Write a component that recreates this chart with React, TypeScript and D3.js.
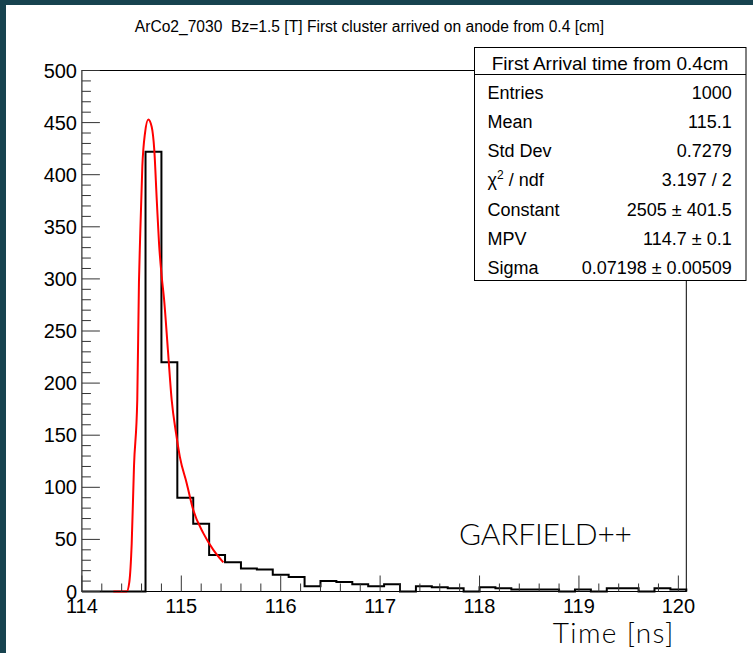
import React from "react";
import * as d3 from "d3";

// ---------- data ----------
const binLow = 114;
const binWidth = 0.16;
const binCounts = [
  0, 0, 0, 0, 422, 220, 90, 65, 35, 28, 22, 21, 16, 14, 5, 10, 9, 7, 5, 7,
  0, 5, 4, 3, 0, 4, 3, 2, 2, 2, 0, 2, 0, 3, 3, 0, 3, 2,
];

const fitX = [
  114.316, 114.451, 114.477, 114.501, 114.524, 114.557, 114.574, 114.585, 114.608,
  114.635, 114.668, 114.702, 114.728, 114.753, 114.776, 114.803, 114.826, 114.865,
  114.903, 114.947, 114.986, 115.054, 115.121, 115.221, 115.322, 115.423,
];
const fitY = [
  0, 0, 9, 46, 120, 184, 297, 337, 408, 440, 453, 446, 424, 376, 334, 302, 281, 232,
  184, 152, 129, 104, 78, 56, 40, 28,
];

const xMajorTicks = [114, 115, 116, 117, 118, 119, 120];
const xTickLabels = ["114", "115", "116", "117", "118", "119", "120"];
const yMajorTicks = [0, 50, 100, 150, 200, 250, 300, 350, 400, 450, 500];
const yTickLabels = ["0", "50", "100", "150", "200", "250", "300", "350", "400", "450", "500"];

const titleText = "ArCo2_7030  Bz=1.5 [T] First cluster arrived on anode from 0.4 [cm]";
const statsTitle = "First Arrival time from 0.4cm";
const statsLabels = ["Entries", "Mean", "Std Dev", "CHI", "Constant", "MPV", "Sigma"];
const statsValues = ["1000", "115.1", "0.7279", "3.197 / 2", "2505 \u00b1 401.5", "114.7 \u00b1 0.1", "0.07198 \u00b1 0.00509"];

// ---------- layout ----------
const W = 753;
const H = 653;
const PL = 81.9;
const PR = 686.3;
const PT = 70.5;
const PB = 591.5;

export default function App() {
  const x = d3.scaleLinear().domain([binLow, binLow + binWidth * binCounts.length]).range([PL, PR]);
  const y = d3.scaleLinear().domain([0, 500]).range([PB, PT]);

  // histogram outline
  const hp = d3.path();
  hp.moveTo(x(binLow), y(0));
  binCounts.forEach((c, i) => {
    const x0 = x(binLow + i * binWidth);
    const x1 = x(binLow + (i + 1) * binWidth);
    hp.lineTo(x0, y(c));
    hp.lineTo(x1, y(c));
  });
  hp.lineTo(x(binLow + binCounts.length * binWidth), y(0));

  const fitLine = d3
    .line<number>()
    .x((_, i) => x(fitX[i]))
    .y((d) => y(d))
    .curve(d3.curveMonotoneX);

  const xMinor = d3.range(114, 120.0001, 0.2).filter((v) => Math.abs(v - Math.round(v)) > 1e-6);
  const yMinor = d3.range(0, 500.0001, 10).filter((v) => v % 50 !== 0);

  const font = "'Liberation Sans', Arial, Helvetica, sans-serif";
  const rowY = (i: number) => 92.3 + i * 29.2;

  return (
    <svg
      width={W}
      height={H}
      style={{ position: "fixed", left: 0, top: 0, display: "block" }}
      xmlns="http://www.w3.org/2000/svg"
    >
      <rect x={0} y={0} width={W} height={H} fill="#17434f" />
      <rect x={6} y={5} width={W - 6} height={H - 5} fill="#ffffff" />

      {/* title */}
      <text
        x={369.5}
        y={32}
        textAnchor="middle"
        fontFamily={font}
        fontSize={15.6}
        fill="#000"
        style={{ whiteSpace: "pre" }}
      >
        {titleText}
      </text>

      {/* histogram */}
      <path d={hp.toString()} fill="none" stroke="#000" strokeWidth={2} strokeLinejoin="miter" />
      {/* fit */}
      <path d={fitLine(fitY) || ""} fill="none" stroke="#ff0000" strokeWidth={2} />

      {/* frame */}
      <rect x={PL} y={PT} width={PR - PL} height={PB - PT} fill="none" stroke="#000" strokeWidth={1} />

      {/* x ticks */}
      {xMajorTicks.map((v) => (
        <line key={"xM" + v} x1={x(v)} x2={x(v)} y1={PB} y2={PB - 16} stroke="#333" strokeWidth={1} />
      ))}
      {xMinor.map((v) => (
        <line key={"xm" + v} x1={x(v)} x2={x(v)} y1={PB} y2={PB - 8} stroke="#333" strokeWidth={1} />
      ))}
      {xMajorTicks.map((v, i) => (
        <text key={"xl" + v} x={x(v)} y={612.5} textAnchor="middle" fontFamily={font} fontSize={20} fill="#000">
          {xTickLabels[i]}
        </text>
      ))}

      {/* y ticks */}
      {yMajorTicks.map((v) => (
        <line key={"yM" + v} x1={PL} x2={PL + 18} y1={y(v)} y2={y(v)} stroke="#333" strokeWidth={1} />
      ))}
      {yMinor.map((v) => (
        <line key={"ym" + v} x1={PL} x2={PL + 9} y1={y(v)} y2={y(v)} stroke="#333" strokeWidth={1} />
      ))}
      {yMajorTicks.map((v, i) => (
        <text
          key={"yl" + v}
          x={77}
          y={y(v) + 7}
          textAnchor="end"
          fontFamily={font}
          fontSize={20}
          fill="#000"
        >
          {yTickLabels[i]}
        </text>
      ))}

      {/* stats box */}
      <rect x={474.5} y={47.5} width={271.5} height={233} fill="#fff" stroke="#000" strokeWidth={1} />
      <line x1={474.5} x2={746} y1={74.5} y2={74.5} stroke="#000" strokeWidth={1} />
      <text x={610} y={63.3 + 6.8} textAnchor="middle" fontFamily={font} fontSize={19} fill="#000">
        {statsTitle}
      </text>
      {statsLabels.map((lab, i) => (
        <g key={"st" + i}>
          <text x={487.5} y={rowY(i) + 6.4} fontFamily={font} fontSize={18} fill="#000">
            {lab === "CHI" ? (
              <>
                {"\u03c7"}
                <tspan fontSize={12} dy={-7}>
                  2
                </tspan>
                <tspan dy={7}>{" / ndf"}</tspan>
              </>
            ) : (
              lab
            )}
          </text>
          <text x={731.7} y={rowY(i) + 6.4} textAnchor="end" fontFamily={font} fontSize={18} fill="#000">
            {statsValues[i]}
          </text>
        </g>
      ))}

      {/* annotations */}
      <text
        x={459}
        y={545}
        fontFamily="Lato, 'Open Sans', sans-serif"
        fontWeight={300}
        fontSize={30}
        fill="#000"
        textLength={173}
      >
        GARFIELD++
      </text>
      <text
        x={552.7}
        y={643.3}
        fontFamily="Lato, 'Open Sans', sans-serif"
        fontWeight={300}
        fontSize={28}
        fill="#000"
        textLength={120.6}
      >
        Time [ns]
      </text>
    </svg>
  );
}
